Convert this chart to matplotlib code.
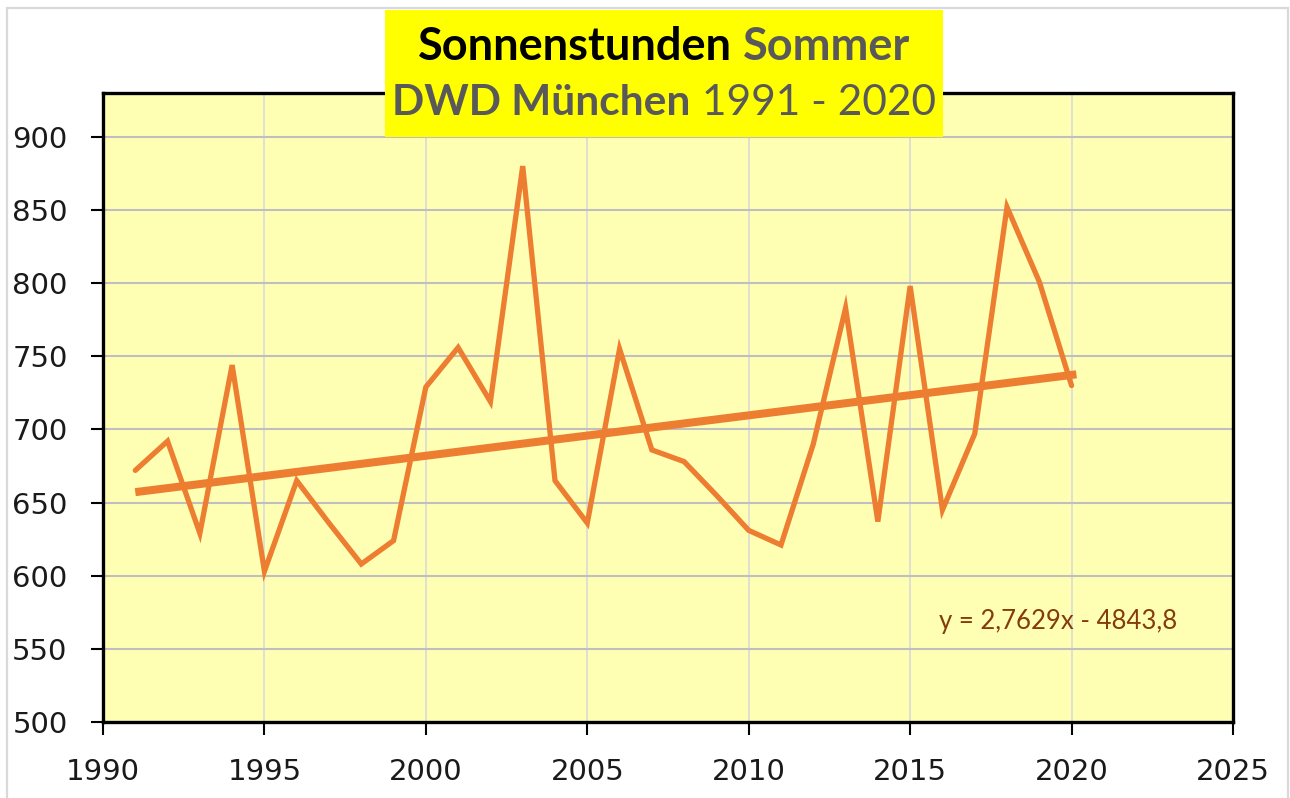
import matplotlib
matplotlib.use("Agg")
import matplotlib.pyplot as plt
from matplotlib.patches import Rectangle

# ── data ──────────────────────────────────────────────────────────────────────
years = list(range(1991, 2021))
sun_hours = [672, 692, 629, 744, 603, 665, 636, 608, 624, 729,
             756, 719, 880, 665, 636, 755, 686, 678, 655, 631,
             621, 690, 783, 637, 798, 645, 697, 852, 801, 730]
trend_slope = 2.7629
trend_icept = -4843.8
x_ticks = list(range(1990, 2030, 5))
y_ticks = list(range(500, 950, 50))
trend_label = "y = 2,7629x - 4843,8"
title_lines = [
    [("Sonnenstunden", "#000000", "bold"), ("Sommer", "#595959", "bold")],
    [("DWD München", "#595959", "bold"), ("1991 - 2020", "#595959", "normal")],
]

# ── style ────────────────────────────────────────────────────────────────────
W, H, DPI = 1290, 798, 100
ORANGE = "#ED7D31"
PLOT_BG = "#FFFFB4"
TITLE_BG = "#FFFF00"


def px(x0, y0, x1, y1):
    """pixel box (top-left origin) -> figure-coords [l, b, w, h]"""
    return [x0 / W, 1 - y1 / H, (x1 - x0) / W, (y1 - y0) / H]


fig = plt.figure(figsize=(W / DPI, H / DPI), dpi=DPI)
fig.patch.set_facecolor("white")

# outer chart frame
l, b, w, h = px(7, 8, 1288, 820)
fig.patches.append(Rectangle((l, b), w, h, transform=fig.transFigure,
                             fill=False, edgecolor="#D9D9D9", lw=1.6, zorder=0))

ax = fig.add_axes(px(103, 93, 1233, 722))
ax.set_facecolor(PLOT_BG)

ax.plot(years, sun_hours, color=ORANGE, lw=3.8, solid_joinstyle="miter",
        solid_capstyle="round", zorder=3)
trend_x = [years[0], years[-1] + 0.15]
trend_y = [trend_slope * x + trend_icept for x in trend_x]
ax.plot(trend_x, trend_y, color=ORANGE, lw=5.8, solid_capstyle="butt", zorder=4)

ax.text(2015.9, 569, trend_label, color="#843C0C", fontsize=18.5,
        family="Lato", ha="left", va="center")

ax.set_xlim(1990, 2025)
ax.set_ylim(500, 930)
ax.set_xticks(x_ticks)
ax.set_yticks(y_ticks)
ax.tick_params(axis="both", direction="out", length=9, width=1.5,
               labelsize=21, colors="#000000", labelcolor="#1a1a1a")
ax.tick_params(axis="y", pad=16.5)
ax.tick_params(axis="x", pad=17)

ax.grid(axis="y", color="#BFBFBF", lw=1.5, zorder=1)
ax.grid(axis="x", color="#D9D9D9", lw=1.2, zorder=1)
ax.set_axisbelow(True)
for s in ax.spines.values():
    s.set_color("black")
    s.set_linewidth(2.4)

# title box
l, b, w, h = px(385, 10, 943, 137)
fig.patches.append(Rectangle((l, b), w, h, transform=fig.transFigure,
                             facecolor=TITLE_BG, edgecolor="none", zorder=2))


def draw_title_line(pieces, cx, cy, size):
    r = fig.canvas.get_renderer()
    arts = [fig.text(0, cy, t, color=c, fontweight=wt, fontsize=size,
                     family="Lato", ha="left", va="center", zorder=5)
            for t, c, wt in pieces]
    widths = [a.get_window_extent(r).width / fig.bbox.width for a in arts]
    gap = size * 0.26 * DPI / 72 / fig.bbox.width
    x = cx - (sum(widths) + gap * (len(arts) - 1)) / 2
    for a, wd in zip(arts, widths):
        a.set_x(x)
        x += wd + gap


cx = (385 + 943) / 2 / W
draw_title_line(title_lines[0], cx, 1 - 47 / H, 32.5)
draw_title_line(title_lines[1], cx, 1 - 103 / H, 30.5)

fig.savefig("out.png", dpi=DPI, facecolor="white")
